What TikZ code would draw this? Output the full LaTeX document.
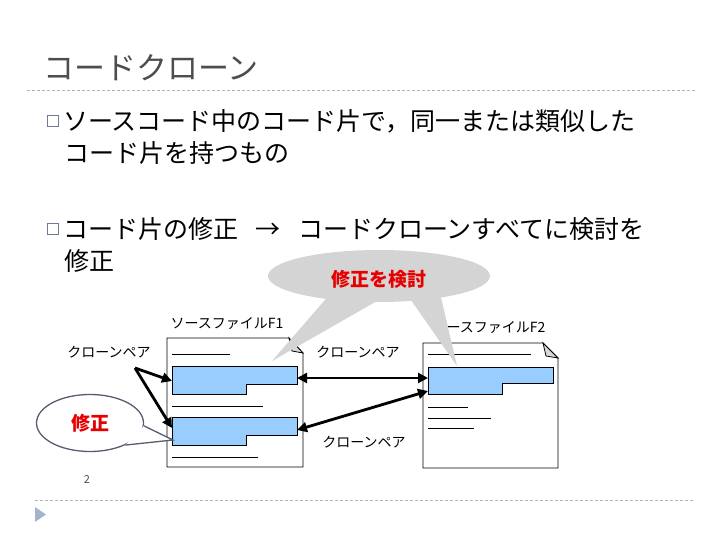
\documentclass[tikz,border=0pt]{standalone}
\usepackage{fontspec}
\setmainfont{Noto Sans CJK JP}
\usepackage{tikz}
\usetikzlibrary{positioning,arrows.meta,calc,shapes.geometric}
\definecolor{titlegray}{HTML}{4D4D4D}
\definecolor{rulegray}{HTML}{B4B4B4}
\definecolor{bulletblue}{HTML}{6E7C99}
\definecolor{codeblue}{HTML}{99CCFF}
\definecolor{bubblegray}{HTML}{D4D4D4}
\definecolor{foldgray}{HTML}{D8D8D8}
\definecolor{fixred}{HTML}{E60000}
\definecolor{noteedge}{HTML}{555D70}
\definecolor{markblue}{HTML}{A3B5CC}

\begin{document}
\begin{tikzpicture}[x=1pt, y=-1pt,
  body/.style={anchor=west, inner sep=0pt, font=\fontsize{25}{25}\selectfont},
  bulletbox/.style={draw=bulletblue, line width=0.8pt, minimum size=11pt, inner sep=0pt},
  small/.style={inner sep=0pt, font=\fontsize{14}{14}\selectfont},
  redbold/.style={inner sep=0pt, text=fixred, font=\fontsize{19}{19}\selectfont\bfseries},
  rule/.style={rulegray, line width=0.9pt, dash pattern=on 3pt off 2pt},
  page/.style={line width=0.8pt},
  pairarrow/.style={line width=2.8pt, -{Triangle[length=10pt,width=10pt]}},
  pairboth/.style={line width=2.8pt, {Triangle[length=10pt,width=10pt]}-{Triangle[length=10pt,width=10pt]}}]
  \useasboundingbox (0,0) rectangle (720,540);

  % title and rules
  \node[anchor=west, inner sep=0pt, text=titlegray, font=\fontsize{31}{31}\selectfont] (title) at (43,68) {コードクローン};
  \draw[rule] (27,90) -- (695,90);
  \draw[rule] (35,500) -- (695,500);
  \fill[markblue] (35,507) -- (46,514.5) -- (35,522) -- cycle;
  \node[inner sep=0pt, text=titlegray, font=\fontsize{11}{11}\selectfont] (pagenum) at (87,480) {2};

  % bullets
  \node[bulletbox] (bulA) at (53,121) {};
  \node[body, right=4pt of bulA] (lineA1) {ソースコード中のコード片で，同一または類似した};
  \node[body] (lineA2) at (64,153) {コード片を持つもの};
  \node[bulletbox] (bulB) at (53,229) {};
  \node[body, right=4pt of bulB] (lineB1) {コード片の修正\hspace{0.7em}→\hspace{0.7em}コードクローンすべてに検討を};
  \node[body] (lineB2) at (64,261) {修正};

  % source files
  \draw[page, fill=white] (167,338) -- (289,338) -- (303,353) -- (303,467) -- (167,467) -- cycle;
  \filldraw[page, fill=foldgray] (289,338) -- (292,351) -- (303,353) -- cycle;
  \draw[page, fill=white] (423,343) -- (543,343) -- (558,358) -- (558,468) -- (423,468) -- cycle;
  \filldraw[page, fill=foldgray] (543,343) -- (546,356) -- (558,358) -- cycle;
  \foreach \xa/\xb/\y in {172/230/354, 172/263/406, 172/258/457,
                          428/531/354, 428/468/407, 428/491/418, 428/474/428} {
    \draw[line width=0.8pt] (\xa,\y) -- (\xb,\y);
  }
  % cloned fragments
  \foreach \y in {366,417} {
    \filldraw[fill=codeblue, line width=0.8pt] (172,\y) -- (297,\y) -- (297,\y+18) -- (246,\y+18) -- (246,\y+28) -- (172,\y+28) -- cycle;
  }
  \filldraw[fill=codeblue, line width=0.8pt] (428,367) -- (553,367) -- (553,383) -- (502,383) -- (502,394) -- (428,394) -- cycle;
  \coordinate (fragAw) at (172,381);
  \coordinate (fragAe) at (297,378);
  \coordinate (fragBw) at (172,428);
  \coordinate (fragBe) at (297,430);
  \coordinate (fragCw) at (428,378);
  \coordinate (fragCs) at (428,391);

  \node[small] (nameF1) at (227,324) {ソースファイルF1};
  \node[small] (nameF2) at (489,328) {ソースファイルF2};
  \node[small] (pairL) at (109,352) {クローンペア};
  \node[small] (pairM) at (358,352) {クローンペア};
  \node[small] (pairB) at (364,442) {クローンペア};

  % clone pair arrows
  \coordinate (pairsrc) at (135,368);
  \draw[pairarrow] (pairsrc) -- (fragAw);
  \draw[pairarrow] (pairsrc) -- (fragBw);
  \draw[pairboth] (fragAe) -- (fragCw);
  \draw[pairboth] (fragBe) -- (fragCs);

  % callout on top
  \node[ellipse, fill=bubblegray, minimum width=222pt, minimum height=52pt, inner sep=0pt] (consider) at (379,276) {};
  \fill[bubblegray] (331,293) -- (272,361) -- (391,293) -- cycle;
  \fill[bubblegray] (406,293) -- (457,366) -- (440,293) -- cycle;
  \node[redbold] (considerText) at (379,279) {修正を検討};

  % edit note
  \node[ellipse, draw=noteedge, line width=1.3pt, fill=white, minimum width=107pt, minimum height=57pt, inner sep=0pt] (note) at (90,423) {};
  \coordinate (notetip) at (173,440);
  \fill[white] (note.-3) -- (notetip) -- (note.-32) -- cycle;
  \draw[noteedge, line width=1.3pt] (note.-3) -- (notetip) -- (note.-32);
  \node[redbold] (noteText) at (90,423) {修正};
\end{tikzpicture}
\end{document}
